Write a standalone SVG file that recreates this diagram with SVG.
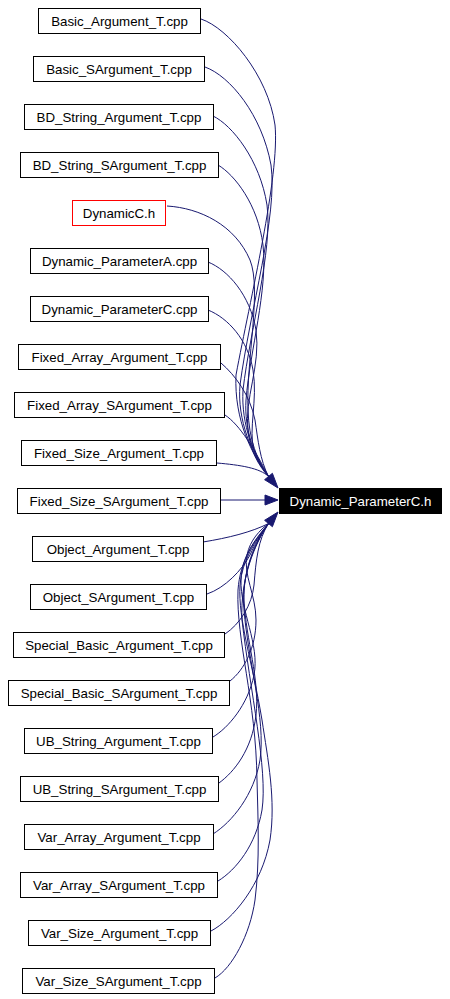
<svg xmlns="http://www.w3.org/2000/svg" width="450" height="999" viewBox="0 0 450 999">
<style>
.n rect{fill:#fff;stroke:#000;stroke-width:1}
.n text{font-family:"Liberation Sans",Arial,sans-serif;font-size:13.3px;text-anchor:middle;fill:#000}
#target rect{fill:#000;stroke:#000}
#target text{fill:#fff}
#n5 rect{stroke:#ff0000}
.e path{fill:none;stroke:#191970;stroke-width:1}
.e polygon{fill:#191970;stroke:#191970;stroke-width:1}
</style>
<rect width="450" height="999" fill="#fff"/>
<g class="e" id="edges">
<path d="M201,19 C228,28 268,75 275,125 C280,175 250,300 236,375 C234,420 252,455 268.5,476.5"/>
<path d="M205,67 C230,76 262,115 271,165 C278,215 250,310 240,385 C237,420 252,455 268.5,476.5"/>
<path d="M213,116 C232,125 260,160 267,205 C273,250 250,330 243,390 C241,425 254,456 268.5,476.5"/>
<path d="M218,165 C235,175 258,205 263,245 C268,290 250,350 246,400 C244,430 255,458 268.5,476.5"/>
<path d="M167,206 C200,208 235,225 250,260 C262,290 246,360 248,410 C249,440 257,460 268.5,476.5"/>
<path d="M208,262 C228,270 250,295 256,330 C261,365 244,400 248,430 C250,450 258,465 268.5,476.5"/>
<path d="M208,310 C228,318 248,340 253,370 C258,400 248,430 254,450 C258,462 263,470 268.5,476.5"/>
<path d="M221,363 C235,375 250,395 255,420 C258,440 260,460 268.5,476.5"/>
<path d="M225,415 C240,425 255,450 268.5,476.5"/>
<path d="M217,463 C240,465 260,468 268.5,476.5"/>
<path d="M221,500 L265,500"/>
<path d="M203,542 C228,538 252,532 268.5,523.5"/>
<path d="M207,594 C225,588 242,570 250,555 C256,542 262,532 268.5,523.5"/>
<path d="M225,634 C240,624 252,605 254,585 C256,560 258,540 268.5,523.5"/>
<path d="M230,681 C244,670 256,648 256,620 C256,595 243,575 247,555 C250,540 260,530 268.5,523.5"/>
<path d="M213,737 C228,728 248,705 254,675 C260,645 240,610 241,580 C242,555 255,540 268.5,523.5"/>
<path d="M219,783 C234,772 252,750 256,715 C260,680 246,640 244,600 C243,570 255,542 268.5,523.5"/>
<path d="M213,834 C232,822 254,795 260,760 C266,720 248,660 244,610 C241,575 254,545 268.5,523.5"/>
<path d="M218,881 C236,870 256,845 262,810 C268,770 250,690 242,620 C240,580 254,545 268.5,523.5"/>
<path d="M211,931 C232,920 262,885 270,840 C276,800 268,760 262,720 C252,660 238,620 240,585 C242,560 256,540 268.5,523.5"/>
<path d="M215,978 C232,968 250,935 255,900 C260,860 258,820 257,780 C256,700 236,640 238,590 C240,560 255,540 268.5,523.5"/>
<polygon points="278,488 264.6,479.7 272.4,473.3"/>
<polygon points="278,500 265,495 265,505"/>
<polygon points="278,512 264.6,520.3 272.4,526.7"/>
</g>
<g class="n" id="n1"><rect x="38.5" y="8.5" width="162" height="25"/><text x="119.5" y="26">Basic_Argument_T.cpp</text></g>
<g class="n" id="n2"><rect x="33.5" y="56.5" width="171" height="25"/><text x="119" y="74">Basic_SArgument_T.cpp</text></g>
<g class="n" id="n3"><rect x="24.5" y="104.5" width="189" height="25"/><text x="119" y="122">BD_String_Argument_T.cpp</text></g>
<g class="n" id="n4"><rect x="20.5" y="152.5" width="198" height="25"/><text x="119.5" y="170">BD_String_SArgument_T.cpp</text></g>
<g class="n" id="n5"><rect x="72.5" y="200.5" width="93" height="25"/><text x="119" y="218">DynamicC.h</text></g>
<g class="n" id="n6"><rect x="30.5" y="248.5" width="178" height="25"/><text x="119.5" y="266">Dynamic_ParameterA.cpp</text></g>
<g class="n" id="n7"><rect x="30.5" y="296.5" width="178" height="25"/><text x="119.5" y="314">Dynamic_ParameterC.cpp</text></g>
<g class="n" id="n8"><rect x="18.5" y="344.5" width="202" height="25"/><text x="119.5" y="362">Fixed_Array_Argument_T.cpp</text></g>
<g class="n" id="n9"><rect x="14.5" y="392.5" width="210" height="25"/><text x="119.5" y="410">Fixed_Array_SArgument_T.cpp</text></g>
<g class="n" id="n10"><rect x="21.5" y="440.5" width="195" height="25"/><text x="119" y="458">Fixed_Size_Argument_T.cpp</text></g>
<g class="n" id="n11"><rect x="17.5" y="488.5" width="203" height="25"/><text x="119" y="506">Fixed_Size_SArgument_T.cpp</text></g>
<g class="n" id="n12"><rect x="32.5" y="536.5" width="171" height="25"/><text x="118" y="554">Object_Argument_T.cpp</text></g>
<g class="n" id="n13"><rect x="30.5" y="584.5" width="176" height="25"/><text x="118.5" y="602">Object_SArgument_T.cpp</text></g>
<g class="n" id="n14"><rect x="13.5" y="632.5" width="211" height="25"/><text x="119" y="650">Special_Basic_Argument_T.cpp</text></g>
<g class="n" id="n15"><rect x="8.5" y="680.5" width="221" height="25"/><text x="119" y="698">Special_Basic_SArgument_T.cpp</text></g>
<g class="n" id="n16"><rect x="24.5" y="728.5" width="188" height="25"/><text x="118.5" y="746">UB_String_Argument_T.cpp</text></g>
<g class="n" id="n17"><rect x="20.5" y="776.5" width="198" height="25"/><text x="119.5" y="794">UB_String_SArgument_T.cpp</text></g>
<g class="n" id="n18"><rect x="24.5" y="824.5" width="189" height="25"/><text x="119" y="842">Var_Array_Argument_T.cpp</text></g>
<g class="n" id="n19"><rect x="20.5" y="872.5" width="197" height="25"/><text x="119" y="890">Var_Array_SArgument_T.cpp</text></g>
<g class="n" id="n20"><rect x="28.5" y="920.5" width="182" height="25"/><text x="119.5" y="938">Var_Size_Argument_T.cpp</text></g>
<g class="n" id="n21"><rect x="22.5" y="968.5" width="192" height="25"/><text x="118.5" y="986">Var_Size_SArgument_T.cpp</text></g>
<g class="n" id="target"><rect x="279.5" y="488.5" width="162" height="25"/><text x="360.5" y="506">Dynamic_ParameterC.h</text></g>
</svg>
